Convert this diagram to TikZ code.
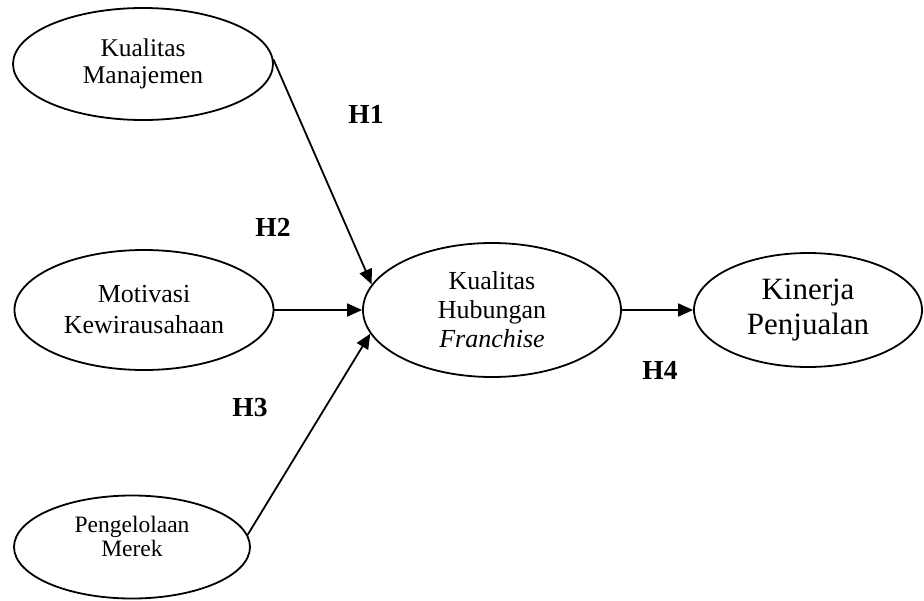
\documentclass[tikz,border=0pt]{standalone}
\usepackage{fontspec}
\setmainfont{Liberation Serif}
\usetikzlibrary{shapes.geometric,arrows.meta}
\begin{document}
\begin{tikzpicture}[x=1pt,y=-1pt,
  construct/.style={draw, ellipse, line width=1.8pt, inner sep=0pt, align=center},
  link/.style={line width=1.8pt, -{Triangle[length=15pt,width=13pt]}},
  hyp/.style={font=\fontsize{27.5}{29}\selectfont\bfseries}]
\useasboundingbox (0,0) rectangle (924,600);

% constructs
\node[construct, minimum width=260pt, minimum height=112pt,
      font=\fontsize{25.5}{27}\selectfont] (km) at (143,64) {Kualitas\\Manajemen};
\node[construct, minimum width=259pt, minimum height=120pt,
      font=\fontsize{26}{31}\selectfont] (mk) at (144,310) {Motivasi\\Kewirausahaan};
\node[construct, minimum width=236pt, minimum height=103pt] (pm) at (132,547) {};
\node[align=center, font=\fontsize{23.5}{24}\selectfont] (pmt) at (132,536) {Pengelolaan\\Merek};
\node[construct, minimum width=258pt, minimum height=134pt,
      font=\fontsize{26}{29}\selectfont] (khf) at (492,310) {Kualitas\\Hubungan\\\textit{Franchise}};
\node[construct, minimum width=228pt, minimum height=114pt,
      font=\fontsize{31}{35}\selectfont] (kp) at (808,310) {Kinerja\\Penjualan};

% hypothesised paths
\draw[link] (km.2) -- (khf.168.7);
\draw[link] (mk.east) -- (khf.west);
\draw[link] (pm.6) -- (khf.191.3);
\draw[link] (khf.east) -- (kp.west);

% hypothesis labels
\node[hyp] (h1) at (366,114) {H1};
\node[hyp] (h2) at (273,227) {H2};
\node[hyp] (h3) at (250,408) {H3};
\node[hyp] (h4) at (660,370) {H4};
\end{tikzpicture}
\end{document}
